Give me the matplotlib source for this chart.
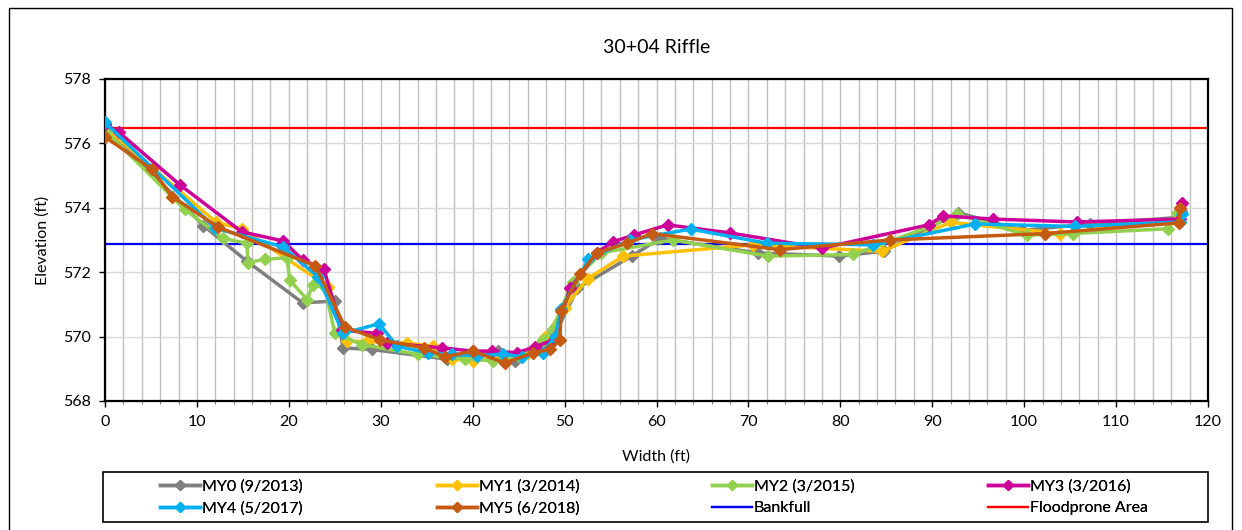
import matplotlib
matplotlib.use("Agg")
import matplotlib.pyplot as plt
from matplotlib.patches import Rectangle
import numpy as np

plt.rcParams['font.family'] = ['Lato', 'DejaVu Sans']

title = "30+04 Riffle"
xlabel = "Width (ft)"
ylabel = "Elevation (ft)"

my0_x = [0, 10.7, 15.4, 21.5, 25.0, 25.9, 29.0, 37.2, 42.8, 44.6, 47.5, 49.0, 51.4, 57.3, 60.4, 71.0, 79.9, 84.7, 92.8, 99.8, 107.2, 116.8, 117.1]
my0_y = [576.55, 573.45, 572.35, 571.05, 571.1, 569.65, 569.6, 569.3, 569.55, 569.25, 569.6, 570.1, 571.5, 572.5, 573.05, 572.6, 572.5, 572.65, 573.85, 573.3, 573.5, 573.7, 573.9]

my1_x = [0, 12.1, 14.9, 24.3, 26.3, 28.5, 32.9, 35.7, 37.8, 40.0, 43.5, 46.0, 47.9, 50.0, 52.5, 56.4, 70.5, 84.5, 92.0, 103.9, 116.8, 117.0]
my1_y = [576.5, 573.55, 573.35, 571.55, 569.85, 569.85, 569.8, 569.7, 569.3, 569.25, 569.35, 569.5, 570.0, 570.9, 571.8, 572.5, 572.85, 572.65, 573.55, 573.2, 573.65, 574.0]

my2_x = [0, 8.7, 12.8, 15.4, 15.6, 17.4, 19.8, 20.1, 22.0, 22.6, 23.9, 25.0, 28.0, 34.0, 39.2, 42.2, 45.0, 47.7, 48.7, 50.9, 54.0, 61.8, 72.1, 81.4, 89.6, 92.7, 100.3, 105.3, 115.6, 116.6]
my2_y = [576.4, 573.95, 573.05, 572.9, 572.3, 572.4, 572.45, 571.75, 571.15, 571.6, 571.55, 570.1, 569.75, 569.45, 569.3, 569.25, 569.4, 569.9, 570.25, 571.7, 572.6, 573.0, 572.5, 572.55, 573.4, 573.8, 573.15, 573.2, 573.35, 573.85]

my3_x = [0, 1.5, 8.2, 14.9, 19.4, 21.5, 23.8, 25.8, 29.6, 30.7, 36.7, 40.0, 42.1, 44.8, 46.8, 48.8, 50.6, 53.5, 55.3, 57.5, 61.2, 68.0, 78.0, 89.6, 91.2, 96.6, 105.7, 117.0, 117.2]
my3_y = [576.6, 576.35, 574.7, 573.25, 572.97, 572.38, 572.1, 570.2, 570.1, 569.8, 569.65, 569.55, 569.55, 569.5, 569.68, 569.9, 571.5, 572.6, 572.95, 573.15, 573.47, 573.22, 572.75, 573.47, 573.75, 573.65, 573.56, 573.65, 574.15]

my4_x = [0, 12.0, 19.4, 23.2, 25.9, 29.8, 31.8, 35.1, 37.8, 40.5, 43.3, 45.4, 47.6, 49.0, 49.6, 52.6, 57.1, 63.7, 72.0, 83.6, 94.7, 105.5, 117.0, 117.2]
my4_y = [576.65, 573.37, 572.78, 571.85, 570.1, 570.4, 569.7, 569.5, 569.45, 569.4, 569.46, 569.37, 569.5, 570.0, 570.85, 572.4, 573.0, 573.34, 572.9, 572.85, 573.5, 573.42, 573.56, 573.8]

my5_x = [0, 5.1, 7.3, 12.3, 22.9, 26.1, 29.9, 34.7, 37.0, 40.0, 43.5, 46.6, 48.4, 49.5, 49.6, 51.7, 53.5, 56.8, 59.5, 73.4, 85.4, 102.3, 116.8, 117.0]
my5_y = [576.2, 575.2, 574.35, 573.4, 572.2, 570.3, 569.9, 569.65, 569.37, 569.55, 569.18, 569.5, 569.6, 569.9, 570.8, 571.95, 572.6, 572.9, 573.2, 572.7, 573.0, 573.2, 573.53, 574.0]

bankfull = 572.88
floodprone = 576.48

series_labels = ["MY0 (9/2013)", "MY1 (3/2014)", "MY2 (3/2015)", "MY3 (3/2016)", "MY4 (5/2017)", "MY5 (6/2018)"]
series_colors = ["#7F7F7F", "#FFC000", "#92D050", "#CC0099", "#00B0F0", "#C55A11"]
series_x = [my0_x, my1_x, my2_x, my3_x, my4_x, my5_x]
series_y = [my0_y, my1_y, my2_y, my3_y, my4_y, my5_y]

W, H = 1242, 530
fig = plt.figure(figsize=(W / 100, H / 100), dpi=100)
ax = fig.add_axes([105 / W, 1 - 401 / H, (1208 - 105) / W, (401 - 79) / H])

ax.set_xlim(0, 120)
ax.set_ylim(568, 578)
ax.set_xticks(np.arange(0, 121, 10))
ax.set_xticks(np.arange(0, 121, 2), minor=True)
ax.set_yticks(np.arange(568, 579, 2))
ax.grid(True, which='both', axis='x', color='#BFBFBF', linewidth=1.0)
ax.grid(True, which='major', axis='y', color='#D9D9D9', linewidth=1.0)
ax.set_axisbelow(True)

handles = []
for xs, ys, c, lab in zip(series_x, series_y, series_colors, series_labels):
    h, = ax.plot(xs, ys, color=c, linewidth=2.5, marker='D', markersize=6,
                 markeredgecolor=c, markerfacecolor=c, label=lab, zorder=3)
    handles.append(h)
hb = ax.axhline(bankfull, color='#0000EE', linewidth=1.6, label='Bankfull', zorder=2)
hf = ax.axhline(floodprone, color='#FF0000', linewidth=1.6, label='Floodprone Area', zorder=2)

for s in ax.spines.values():
    s.set_color('black')
    s.set_linewidth(1.6)
ax.tick_params(axis='both', which='major', labelsize=11.5, color='black', length=4, width=1, pad=6)
ax.tick_params(axis='x', which='minor', length=2.5, width=0.8, color='#7F7F7F')
ax.set_title(title, fontsize=14, pad=19)
ax.set_xlabel(xlabel, fontsize=11.5, labelpad=15)
ax.set_ylabel(ylabel, fontsize=11.5, labelpad=10)

# legend frame
fig.add_artist(Rectangle((103 / W, 1 - 522 / H), (1208 - 103) / W, 50 / H,
                         transform=fig.transFigure, fill=False, edgecolor='black', linewidth=1.2))
# outer chart border
fig.add_artist(Rectangle((9 / W, -0.05), (1232 - 9) / W, 1 - 8 / H + 0.05,
                         transform=fig.transFigure, fill=False, edgecolor='black', linewidth=1.0))

cols = [[handles[0], handles[4]], [handles[1], handles[5]], [handles[2], hb], [handles[3], hf]]
col_x = [160, 437, 712, 988]
for hs, cx in zip(cols, col_x):
    leg = fig.legend(handles=hs, labels=[h.get_label() for h in hs], loc='center left',
                     bbox_to_anchor=(cx / W, 1 - 497.5 / H), bbox_transform=fig.transFigure,
                     frameon=False, fontsize=11.5, handlelength=2.5, handletextpad=0.1,
                     borderpad=0, borderaxespad=0, labelspacing=0.45, markerscale=0.85)
    fig.add_artist(leg)

fig.savefig("out.png", dpi=100)
